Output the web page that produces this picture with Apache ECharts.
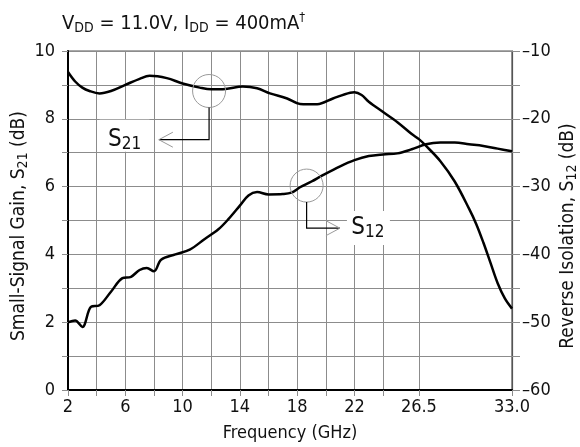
<!DOCTYPE html>
<html>
<head>
<meta charset="utf-8">
<script src="https://cdn.jsdelivr.net/npm/echarts@6/dist/echarts.min.js"></script>
<style>
  html, body { margin: 0; padding: 0; background: #fff; }
  #chart { width: 580px; height: 447px; }
</style>
</head>
<body>
<div id="chart"></div>
<script>
const FONT = "'Liberation Sans Narrow', 'DejaVu Sans Condensed', 'Roboto', sans-serif";

// Frequency axis ticks (GHz) and which of them carry labels
const freqTicks = [2, 4, 6, 8, 10, 12, 14, 16, 18, 20, 22, 24, 26.5, 33];
const freqLabels = [2, 6, 10, 14, 18, 22, 26.5, 33];
// Labelled values on the two vertical axes
const gainLabels = [0, 2, 4, 6, 8, 10];
const isoLabels = [-60, -50, -40, -30, -20, -10];

// Small-signal gain S21 (dB)
const s21Freq = [2, 2.5, 3, 3.5, 4.2, 5, 6, 7, 7.7, 8.9, 10, 11.2, 12, 13, 14.2, 15.2, 16.1, 17.3, 18.2, 19.4, 20.5, 21.7, 22, 22.5, 23, 24, 25, 26, 26.5, 27, 28, 29, 30, 30.5, 31, 31.5, 32, 32.5, 33];
const s21Gain = [9.38, 9.1, 8.92, 8.82, 8.75, 8.82, 9.0, 9.18, 9.27, 9.2, 9.04, 8.92, 8.87, 8.88, 8.95, 8.9, 8.75, 8.6, 8.44, 8.43, 8.6, 8.77, 8.78, 8.7, 8.5, 8.2, 7.9, 7.55, 7.4, 7.2, 6.75, 6.15, 5.35, 4.9, 4.35, 3.75, 3.15, 2.7, 2.4];

// Reverse isolation S12 (dB)
const s12Freq = [2, 2.5, 3, 3.6, 4.2, 5, 5.8, 6.4, 7, 7.5, 8, 8.5, 9.5, 10.5, 11.5, 12.5, 13.2, 14, 14.6, 15.2, 16, 17, 17.6, 18.2, 19, 19.8, 21, 22, 23, 24, 25, 26, 27, 28, 29, 30, 31, 32, 33];
const s12Iso = [-50, -49.75, -50.7, -47.75, -47.5, -45.5, -43.5, -43.3, -42.3, -42, -42.5, -40.8, -40, -39.3, -37.8, -36.3, -34.8, -32.8, -31.3, -30.8, -31.15, -31.1, -30.9, -30.1, -29.25, -28.3, -27, -26.1, -25.5, -25.25, -25.1, -24.5, -23.75, -23.5, -23.5, -23.75, -24, -24.4, -24.8];

const zip = (xs, ys) => xs.map((x, i) => [x, ys[i]]);

const chart = echarts.init(document.getElementById('chart'));

const gridColor = '#8c8c8c';

chart.setOption({
  animation: false,
  backgroundColor: '#fff',
  textStyle: { fontFamily: FONT },
  title: {
    left: 62,
    top: 11,
    padding: 0,
    text: '{a|V}{s|DD}{a| = 11.0V, I}{s|DD}{a| = 400mA}{p|†}',
    textStyle: {
      fontWeight: 'normal',
      rich: {
        a: { fontFamily: FONT, fontSize: 20, fontWeight: 'normal', color: '#111' },
        s: { fontFamily: FONT, fontSize: 14, fontWeight: 'normal', color: '#111', padding: [10, 0, 0, 0] },
        p: { fontFamily: FONT, fontSize: 13, fontWeight: 'normal', color: '#111', padding: [0, 0, 12, 0] }
      }
    }
  },
  grid: {
    left: 68, right: 68, top: 51, bottom: 57,
    containLabel: false,
    outerBoundsMode: 'none',
    show: true, borderColor: '#555', borderWidth: 1.2
  },
  xAxis: {
    type: 'value',
    min: 2, max: 33,
    name: 'Frequency (GHz)',
    nameLocation: 'middle',
    nameGap: 34,
    nameTextStyle: { fontFamily: FONT, fontSize: 18, color: '#111' },
    axisLine: { lineStyle: { color: '#000', width: 2 } },
    axisTick: { show: true, length: 6, inside: false, customValues: freqTicks, lineStyle: { color: gridColor } },
    axisLabel: {
      customValues: freqLabels,
      fontFamily: FONT, fontSize: 18, color: '#111', margin: 8,
      formatter: v => (v === 33 ? '33.0' : String(v))
    },
    splitLine: { show: true, lineStyle: { color: gridColor, width: 1 } }
  },
  yAxis: [
    {
      type: 'value',
      min: 0, max: 10, interval: 1,
      position: 'left',
      axisLine: { show: true, lineStyle: { color: '#000', width: 2 } },
      axisTick: { show: true, length: 6, lineStyle: { color: gridColor } },
      axisLabel: { customValues: gainLabels, fontFamily: FONT, fontSize: 18, color: '#111', margin: 13 },
      splitLine: { show: true, lineStyle: { color: gridColor, width: 1 } }
    },
    {
      type: 'value',
      min: -60, max: -10, interval: 5,
      position: 'right',
      axisLine: { show: true, lineStyle: { color: '#555', width: 1.2 } },
      axisTick: { show: true, length: 8, lineStyle: { color: gridColor } },
      axisLabel: {
        customValues: isoLabels,
        fontFamily: FONT, fontSize: 18, color: '#111', margin: 10,
        formatter: v => String(v).replace('-', '\u2013')
      },
      splitLine: { show: false }
    }
  ],
  series: [
    {
      name: 'S21', type: 'line', smooth: 0.35, showSymbol: false,
      yAxisIndex: 0,
      lineStyle: { color: '#000', width: 2.5 },
      data: zip(s21Freq, s21Gain)
    },
    {
      name: 'S12', type: 'line', smooth: 0.35, showSymbol: false,
      yAxisIndex: 1,
      lineStyle: { color: '#000', width: 2.5 },
      data: zip(s12Freq, s12Iso)
    }
  ]
});

const elements = [];

// Vertical axis titles, read bottom to top
const axisTitle = (x, y, main, sub, tail) => ({
  type: 'text', z: 5,
  x, y, rotation: Math.PI / 2,
  style: {
    text: '{a|' + main + '}{s|' + sub + '}{a|' + tail + '}',
    align: 'center', verticalAlign: 'middle',
    rich: {
      a: { fontFamily: FONT, fontSize: 19, fill: '#111' },
      s: { fontFamily: FONT, fontSize: 14, fill: '#111', padding: [9, 0, 0, 0] }
    }
  }
});
elements.push(axisTitle(19, 226, 'Small-Signal Gain, S', '21', ' (dB)'));
elements.push(axisTitle(568, 236, 'Reverse Isolation, S', '12', ' (dB)'));

// Callouts: circle on the curve, elbow leader, open arrowhead and a boxed label
const callouts = [
  { axis: 0, at: [11.85, 8.82], name: 'S', sub: '21', drop: 48.7, run: -50.2, box: [-109.5, 28.7, 50, 32], text: [-84.5, 48.7] },
  { axis: 1, at: [18.66, -29.85], name: 'S', sub: '12', drop: 42.6, run: 33.3, box: [40.3, 25.3, 43, 34], text: [61.3, 42.3] }
];

callouts.forEach(c => {
  const [cx, cy] = chart.convertToPixel({ xAxisIndex: 0, yAxisIndex: c.axis }, c.at);
  const r = 16.5;
  const ey = cy + c.drop;
  const tx = cx + c.run;
  const dir = Math.sign(c.run);
  elements.push({
    type: 'rect', z: 10,
    shape: { x: cx + c.box[0], y: cy + c.box[1], width: c.box[2], height: c.box[3] },
    style: { fill: '#fff' }
  });
  elements.push({
    type: 'circle', z: 11,
    shape: { cx, cy, r },
    style: { fill: 'none', stroke: '#9a9a9a', lineWidth: 1 }
  });
  elements.push({
    type: 'polyline', z: 11,
    shape: { points: [[cx, cy + r], [cx, ey], [tx, ey]] },
    style: { fill: 'none', stroke: '#000', lineWidth: 1.2 }
  });
  elements.push({
    type: 'polyline', z: 11,
    shape: { points: [[tx - dir * 14, ey - 7.5], [tx, ey], [tx - dir * 14, ey + 7.5]] },
    style: { fill: 'none', stroke: '#9a9a9a', lineWidth: 1 }
  });
  elements.push({
    type: 'text', z: 12,
    x: cx + c.text[0], y: cy + c.text[1],
    style: {
      text: '{m|' + c.name + '}{s|' + c.sub + '}',
      align: 'center', verticalAlign: 'middle',
      rich: {
        m: { fontFamily: FONT, fontSize: 24, fill: '#111' },
        s: { fontFamily: FONT, fontSize: 17, fill: '#111', padding: [10, 0, 0, 0] }
      }
    }
  });
});
chart.setOption({ graphic: { elements } });
</script>
</body>
</html>
